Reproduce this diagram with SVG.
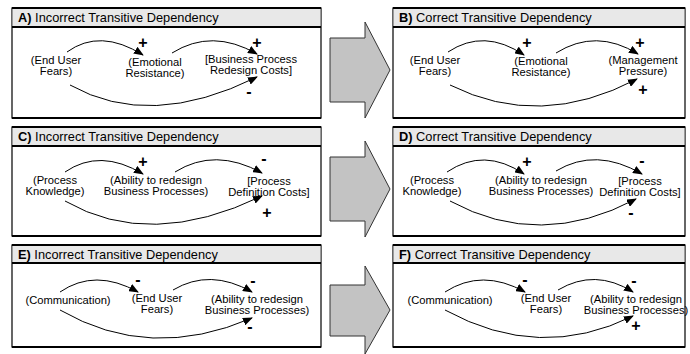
<svg xmlns="http://www.w3.org/2000/svg" width="690" height="354" viewBox="0 0 690 354">
<style>
text{font-family:"Liberation Sans",Arial,sans-serif;fill:#000}
.t{font-size:12.8px}
.n{font-size:11.2px;text-anchor:middle}
.s{font-size:16px;font-weight:bold;text-anchor:middle}
.hdr{fill:#e8e8e8;stroke:none}
.box{fill:#fff;stroke:#000;stroke-width:1.2}
.thick{stroke:#000;stroke-width:2.2}
.arc{fill:none;stroke:#000;stroke-width:1;marker-end:url(#ah)}
.big{fill:#c3c3c3;stroke:#333;stroke-width:1}
</style>
<defs>
<marker id="ah" markerWidth="10" markerHeight="8" refX="9" refY="4" orient="auto" markerUnits="userSpaceOnUse">
<path d="M0,0 L10,4 L0,8 Z" fill="#000"/>
</marker>
</defs>

<g id="panelA">
<rect class="box" x="12" y="8" width="309" height="110"/>
<rect class="hdr" x="12.6" y="8.6" width="307.8" height="18.4"/>
<line class="thick" x1="12" y1="8" x2="321" y2="8"/>
<line class="thick" x1="12" y1="27" x2="321" y2="27"/>
<line class="thick" x1="12" y1="118" x2="321" y2="118"/>
<text class="t" x="18" y="22"><tspan font-weight="bold">A)</tspan> Incorrect Transitive Dependency</text>
</g>
<g id="panelB">
<rect class="box" x="393" y="8" width="292" height="110"/>
<rect class="hdr" x="393.6" y="8.6" width="290.8" height="18.4"/>
<line class="thick" x1="393" y1="8" x2="685" y2="8"/>
<line class="thick" x1="393" y1="27" x2="685" y2="27"/>
<line class="thick" x1="393" y1="118" x2="685" y2="118"/>
<text class="t" x="399" y="22"><tspan font-weight="bold">B)</tspan> Correct Transitive Dependency</text>
</g>
<g id="panelC">
<rect class="box" x="12" y="127" width="309" height="109"/>
<rect class="hdr" x="12.6" y="127.6" width="307.8" height="18.4"/>
<line class="thick" x1="12" y1="127" x2="321" y2="127"/>
<line class="thick" x1="12" y1="146" x2="321" y2="146"/>
<line class="thick" x1="12" y1="236" x2="321" y2="236"/>
<text class="t" x="18" y="141"><tspan font-weight="bold">C)</tspan> Incorrect Transitive Dependency</text>
</g>
<g id="panelD">
<rect class="box" x="393" y="127" width="292" height="109"/>
<rect class="hdr" x="393.6" y="127.6" width="290.8" height="18.4"/>
<line class="thick" x1="393" y1="127" x2="685" y2="127"/>
<line class="thick" x1="393" y1="146" x2="685" y2="146"/>
<line class="thick" x1="393" y1="236" x2="685" y2="236"/>
<text class="t" x="399" y="141"><tspan font-weight="bold">D)</tspan> Correct Transitive Dependency</text>
</g>
<g id="panelE">
<rect class="box" x="12" y="245" width="309" height="102"/>
<rect class="hdr" x="12.6" y="245.6" width="307.8" height="17.4"/>
<line class="thick" x1="12" y1="245" x2="321" y2="245"/>
<line class="thick" x1="12" y1="263" x2="321" y2="263"/>
<line class="thick" x1="12" y1="347" x2="321" y2="347"/>
<text class="t" x="18" y="259"><tspan font-weight="bold">E)</tspan> Incorrect Transitive Dependency</text>
</g>
<g id="panelF">
<rect class="box" x="393" y="245" width="292" height="102"/>
<rect class="hdr" x="393.6" y="245.6" width="290.8" height="17.4"/>
<line class="thick" x1="393" y1="245" x2="685" y2="245"/>
<line class="thick" x1="393" y1="263" x2="685" y2="263"/>
<line class="thick" x1="393" y1="347" x2="685" y2="347"/>
<text class="t" x="399" y="259"><tspan font-weight="bold">F)</tspan> Correct Transitive Dependency</text>
</g>

<g id="bigArrows">
<polygon class="big" points="330,38 365,38 365,22 390,70 365,118 365,102 330,102"/>
<polygon class="big" points="330,157 365,157 365,141 390,189 365,237 365,221 330,221"/>
<polygon class="big" points="330,285 365,285 365,266 390,310 365,354 365,336 330,336"/>
</g>

<!-- Row 1 nodes -->
<g id="A_endUserFears"><text class="n" x="56" y="64">(End User<tspan x="56" dy="11">Fears)</tspan></text></g>
<g id="A_emotional"><text class="n" x="155" y="66">(Emotional<tspan x="155" dy="11">Resistance)</tspan></text></g>
<g id="A_bprCosts"><text class="n" x="251" y="63">[Business Process<tspan x="251" dy="11">Redesign Costs]</tspan></text></g>
<g id="B_endUserFears"><text class="n" x="435" y="64">(End User<tspan x="435" dy="11">Fears)</tspan></text></g>
<g id="B_emotional"><text class="n" x="541" y="65">(Emotional<tspan x="541" dy="11">Resistance)</tspan></text></g>
<g id="B_mgmt"><text class="n" x="643" y="64">(Management<tspan x="643" dy="11">Pressure)</tspan></text></g>

<!-- Row 2 nodes -->
<g id="C_knowledge"><text class="n" x="55" y="184">(Process<tspan x="55" dy="11">Knowledge)</tspan></text></g>
<g id="C_ability"><text class="n" x="156" y="184">(Ability to redesign<tspan x="156" dy="11">Business Processes)</tspan></text></g>
<g id="C_pdc"><text class="n" x="269" y="185">[Process<tspan x="269" dy="11">Definition Costs]</tspan></text></g>
<g id="D_knowledge"><text class="n" x="432" y="184">(Process<tspan x="432" dy="11">Knowledge)</tspan></text></g>
<g id="D_ability"><text class="n" x="541" y="184">(Ability to redesign<tspan x="541" dy="11">Business Processes)</tspan></text></g>
<g id="D_pdc"><text class="n" x="640" y="185">[Process<tspan x="640" dy="11">Definition Costs]</tspan></text></g>

<!-- Row 3 nodes -->
<g id="E_comm"><text class="n" x="68" y="304">(Communication)</text></g>
<g id="E_fears"><text class="n" x="157" y="302">(End User<tspan x="157" dy="11">Fears)</tspan></text></g>
<g id="E_ability"><text class="n" x="257" y="303">(Ability to redesign<tspan x="257" dy="11">Business Processes)</tspan></text></g>
<g id="F_comm"><text class="n" x="450" y="304">(Communication)</text></g>
<g id="F_fears"><text class="n" x="546" y="302">(End User<tspan x="546" dy="11">Fears)</tspan></text></g>
<g id="F_ability"><text class="n" x="636" y="303">(Ability to redesign<tspan x="636" dy="11">Business Processes)</tspan></text></g>

<g id="connectors">
<path class="arc" d="M67,52 Q100,28 143,55"/>
<path class="arc" d="M172,53 Q212,28 257,54"/>
<path class="arc" d="M70,85 Q150,130 257,77"/>
<path class="arc" d="M448,52 Q484,28 524,55"/>
<path class="arc" d="M556,53 Q596,28 638,54"/>
<path class="arc" d="M450,85 Q540,130 637,79"/>

<path class="arc" d="M65,172 Q100,148 143,174"/>
<path class="arc" d="M175,172 Q215,147 262,173"/>
<path class="arc" d="M65,201 Q150,250 262,196"/>
<path class="arc" d="M447,172 Q484,147 524,174"/>
<path class="arc" d="M556,171 Q596,147 642,174"/>
<path class="arc" d="M450,201 Q540,250 636,199"/>

<path class="arc" d="M60,292 Q95,268 138,292"/>
<path class="arc" d="M173,290 Q210,268 252,292"/>
<path class="arc" d="M60,310 Q150,362 252,318"/>
<path class="arc" d="M445,292 Q482,268 525,292"/>
<path class="arc" d="M558,290 Q595,268 633,292"/>
<path class="arc" d="M445,310 Q540,362 633,316"/>
</g>

<g id="signs">
<text class="s" x="143" y="48">+</text>
<text class="s" x="257" y="48">+</text>
<text class="s" x="249" y="97">-</text>
<text class="s" x="527" y="48">+</text>
<text class="s" x="640" y="48">+</text>
<text class="s" x="643" y="95">+</text>

<text class="s" x="143" y="167">+</text>
<text class="s" x="264" y="164">-</text>
<text class="s" x="267" y="218">+</text>
<text class="s" x="527" y="167">+</text>
<text class="s" x="642" y="166">-</text>
<text class="s" x="631" y="218">-</text>

<text class="s" x="138" y="285">-</text>
<text class="s" x="253" y="286">-</text>
<text class="s" x="250" y="332">-</text>
<text class="s" x="525" y="285">-</text>
<text class="s" x="634" y="286">-</text>
<text class="s" x="636" y="331">+</text>
</g>
</svg>
